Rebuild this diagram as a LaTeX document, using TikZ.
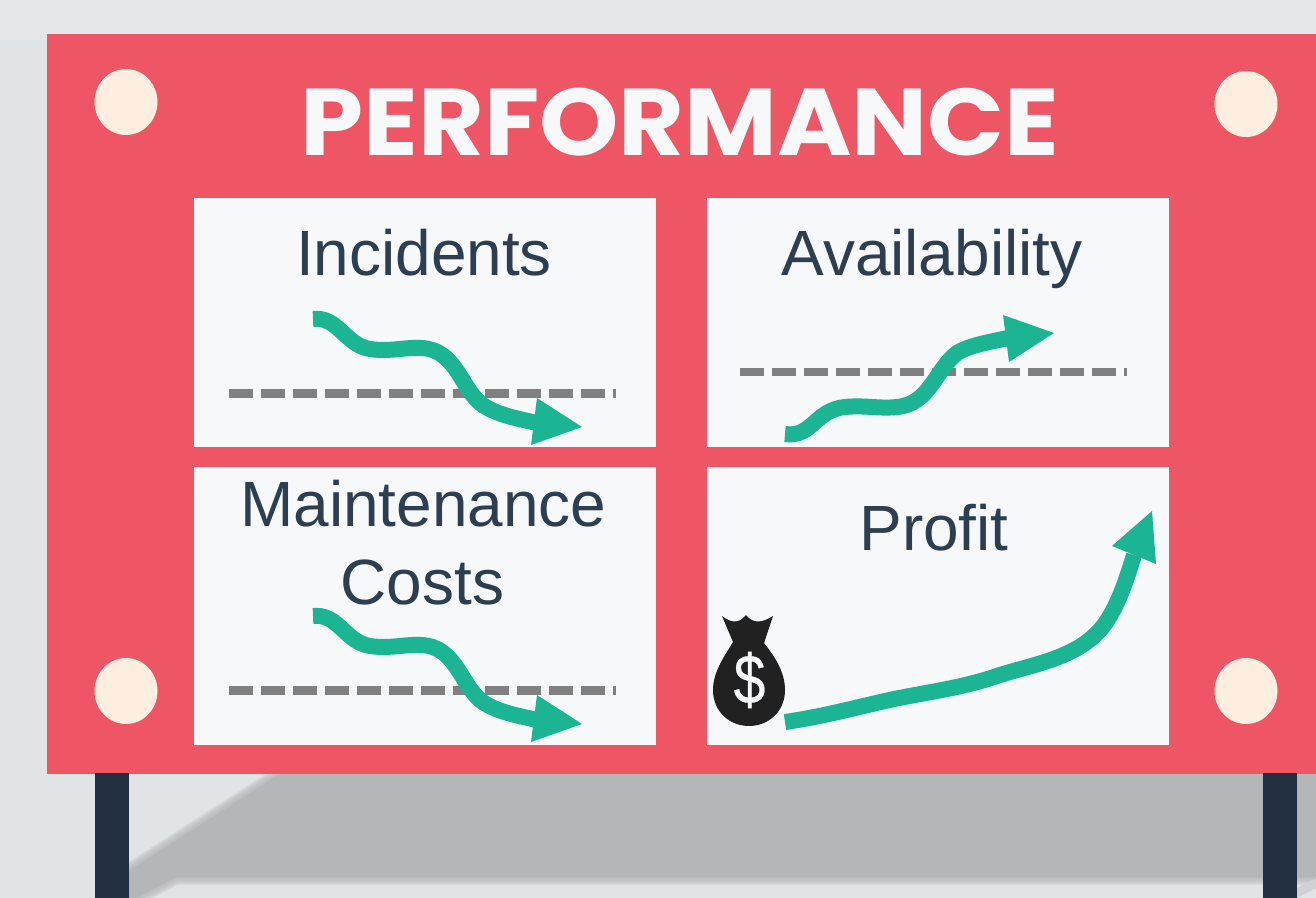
\documentclass[tikz,border=0pt]{standalone}
\usepackage{fontspec}
\setmainfont{Liberation Sans}
\newfontfamily\titlefont{Poppins}
\newfontfamily\dollarfont[FakeBold=.4]{Liberation Sans}
\definecolor{bgA}{HTML}{E0E4E7}
\definecolor{bgB}{HTML}{E4E6E8}
\definecolor{shadowc}{HTML}{B5B6B8}
\definecolor{boardc}{HTML}{EE5565}
\definecolor{panelc}{HTML}{F6F8FA}
\definecolor{greenc}{HTML}{1BB594}
\definecolor{navyc}{HTML}{222F40}
\definecolor{inkc}{HTML}{2C3E50}
\definecolor{creamc}{HTML}{FEEEE0}
\definecolor{bagc}{HTML}{212121}
\definecolor{dashc}{HTML}{808080}
\tikzset{
  panelbox/.style={fill=panelc,draw=none},
  boltdot/.style={fill=creamc,draw=none},
  headline/.style={anchor=base,text=inkc,font=\fontsize{36.4}{40}\selectfont,inner sep=0pt},
  trend/.style={draw=greenc,line width=.32cm,line join=round},
  trendhead/.style={fill=greenc,draw=none},
  baseline dash/.style={draw=dashc,line width=.17cm,dash pattern=on .48cm off .16cm},
}
\begin{document}
\begin{tikzpicture}[x=.02cm,y=-.02cm]
\useasboundingbox (0,0) rectangle (1316,898);
\fill[bgA] (0,0) rectangle (1316,898);
\fill[bgB] (0,0) rectangle (1316,40);
% shadow
\def\shadowpath{(280,774) -- (129,871) -- (129,898) -- (136,898) -- (176,877) -- (1316,877) -- (1316,774) -- cycle}
\foreach \w in {.32,.28,.24,.2,.16,.12,.08,.04}
  \draw[shadowc,opacity=.18,line width=\w cm,line join=round] \shadowpath;
\fill[shadowc] \shadowpath;
\fill[bgA!60!shadowc] (1297,888) -- (1316,878) -- (1316,888) -- (1297,898) -- cycle;
% posts
\fill[navyc] (95,773) rectangle (129,898);
\fill[navyc] (1263,773) rectangle (1297,898);
% board
\fill[boardc] (47,34) rectangle (1316,774);
\fill[navyc] (95,773) rectangle (129,774);
\fill[navyc] (1263,773) rectangle (1297,774);
% bolts
\fill[boltdot] (126,102) ellipse [x radius=31.5,y radius=33];
\fill[boltdot] (1246,104) ellipse [x radius=31.5,y radius=33];
\fill[boltdot] (126,691) ellipse [x radius=31.5,y radius=33];
\fill[boltdot] (1246,691) ellipse [x radius=31.5,y radius=33];
% title
\node[anchor=base,inner sep=0pt,text=panelc] (title) at (680,155.5)
  {\scalebox{.975}[.915]{\titlefont\bfseries\fontsize{59}{60}\selectfont PERFORMANCE}};
% panels
\fill[panelbox] (194,198) rectangle (656,447);
\fill[panelbox] (707,198) rectangle (1169,447);
\fill[panelbox] (194,467) rectangle (656,745);
\fill[panelbox] (707,467) rectangle (1169,745);
% labels
\node[headline] (incidents) at (424,276) {Incidents};
\node[headline] (availability) at (932,276) {Availability};
\node[headline] (maintenance) at (423.5,527) {Maintenance};
\node[headline] (costs) at (422.5,604) {Costs};
\node[headline] (profit) at (934,551) {Profit};
% dashes
\draw[baseline dash] (229,393.5) -- (616,393.5);
\draw[baseline dash] (740,372) -- (1127,372);
\draw[baseline dash] (229,690.5) -- (616,690.5);
% Incidents arrow
\draw[trend] (313,319) .. controls (338,316) and (345,345) .. (370,349)
  .. controls (390,352) and (405,347) .. (422,348)
  .. controls (455,350) and (460,385) .. (480,403)
  .. controls (495,415) and (520,419) .. (537,423);
\fill[trendhead] (537,398) -- (582,427) -- (531,445) -- cycle;
% Maintenance arrow
\draw[trend] (313,616) .. controls (338,613) and (345,642) .. (370,646)
  .. controls (390,649) and (405,644) .. (422,645)
  .. controls (455,647) and (460,682) .. (480,700)
  .. controls (495,712) and (520,716) .. (537,720);
\fill[trendhead] (537,695) -- (582,724) -- (531,742) -- cycle;
% Availability arrow
\draw[trend] (785,434) .. controls (812,438) and (815,410) .. (845,407)
  .. controls (865,405) and (880,409) .. (897,407)
  .. controls (930,404) and (935,370) .. (957,353)
  .. controls (970,345) and (990,342) .. (1008,338);
\fill[trendhead] (1003,315) -- (1054,333) -- (1009,362) -- cycle;
% Profit arrow
\draw[trend] (785,722) .. controls (820,717) and (850,709) .. (885,701)
  .. controls (920,693) and (960,689) .. (1000,675)
  .. controls (1035,664) and (1075,658) .. (1100,630)
  .. controls (1115,613) and (1125,585) .. (1134,555);
\fill[trendhead] (1112,546) -- (1152,511) -- (1156,564) -- cycle;
% money bag
\fill[bagc] (722,616) .. controls (731,623) and (739,624) .. (746,615)
  .. controls (753,624) and (762,623) .. (773,616) -- (764,643)
  .. controls (775,657) and (785,672) .. (785,690)
  .. controls (785,712) and (768,726) .. (749,726)
  .. controls (730,726) and (713,712) .. (713,690)
  .. controls (713,672) and (724,657) .. (733,642) -- cycle;
\node[anchor=center,inner sep=0pt,text=panelc] (dollar) at (749.5,680) {\scalebox{.9}[1.1]{\dollarfont\fontsize{36}{38}\selectfont \$}};
\end{tikzpicture}
\end{document}
